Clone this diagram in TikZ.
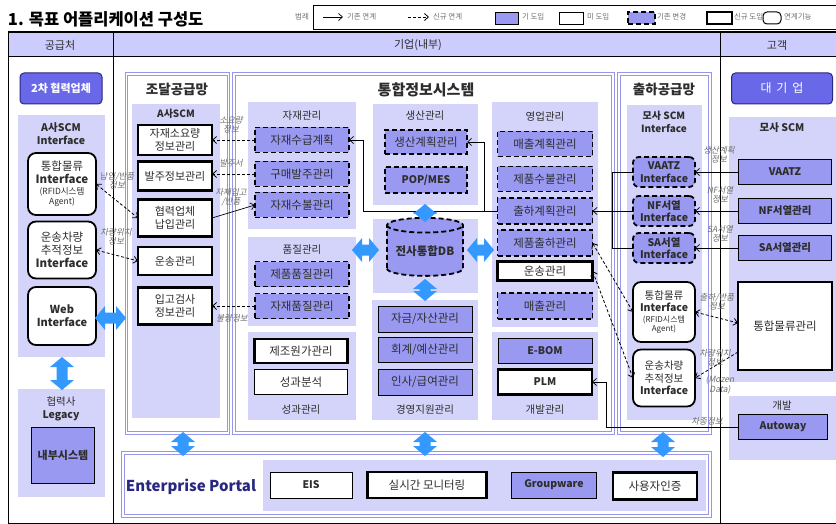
\documentclass[tikz,border=0pt]{standalone}
\usepackage{fontspec}
\setmainfont{Noto Sans CJK KR}
\newfontfamily\labfont[FakeSlant=0.2]{Noto Sans CJK KR}
\usetikzlibrary{shapes.geometric,arrows.meta,calc}
\definecolor{headfill}{RGB}{204,204,255}
\definecolor{panel}{RGB}{212,212,250}
\definecolor{med}{RGB}{153,153,242}
\definecolor{dark}{RGB}{104,104,232}
\definecolor{lav}{RGB}{150,150,236}
\definecolor{ablue}{RGB}{51,153,255}
\definecolor{tgray}{RGB}{45,45,45}
\definecolor{lgray}{RGB}{110,110,110}
\definecolor{navy}{RGB}{40,40,130}
\newcommand\fs[2]{\fontsize{#1}{#2}\selectfont}
\newcommand\bluev[3]{\fill[ablue] (#1,#2) -- (#1+12,#2+10) -- (#1+5.5,#2+10) -- (#1+5.5,#3-10) -- (#1+12,#3-10) -- (#1,#3) -- (#1-12,#3-10) -- (#1-5.5,#3-10) -- (#1-5.5,#2+10) -- (#1-12,#2+10) -- cycle;}
\newcommand\blueh[3]{\fill[ablue] (#2,#1) -- (#2+10,#1-12) -- (#2+10,#1-5.5) -- (#3-10,#1-5.5) -- (#3-10,#1-12) -- (#3,#1) -- (#3-10,#1+12) -- (#3-10,#1+5.5) -- (#2+10,#1+5.5) -- (#2+10,#1+12) -- cycle;}
\begin{document}
\begin{tikzpicture}[x=1pt,y=-1pt,
  every node/.style={inner sep=0pt, outer sep=0pt},
  box/.style={draw=black, text=tgray, align=center, font=\fs{11.5}{13}},
  oldbox/.style={box, fill=med, line width=0.8pt},
  nobox/.style={box, fill=white, line width=0.8pt},
  chgbox/.style={box, fill=med, line width=1.8pt, dash pattern=on 5pt off 3pt},
  newbox/.style={box, fill=white, line width=2.2pt},
  linkbox/.style={box, fill=white, line width=1.8pt, rounded corners=8pt},
  chglink/.style={chgbox, rounded corners=6pt, font=\bfseries\fs{10.5}{12.5}},
  outerpan/.style={draw=lav, line width=1.3pt, double=white, double distance=1.2pt, fill=white},
  ptitle/.style={text=tgray, font=\fs{10.5}{13}, align=center},
  lab/.style={text=lgray, font=\labfont\fs{8.5}{9.5}, align=center},
  legt/.style={text=lgray, font=\fs{7.5}{9}, anchor=west},
  tip/.style={-{Straight Barb[length=4pt,width=7pt]}},
  tips/.style={{Straight Barb[length=4pt,width=7pt]}-{Straight Barb[length=4pt,width=7pt]}},
  conn/.style={line width=0.7pt, black},
  dconn/.style={line width=0.8pt, black, dash pattern=on 3pt off 2pt},
]
\useasboundingbox (0,0) rectangle (836,524);
\fill[white] (0,0) rectangle (836,524);

% title and legend
\node[anchor=west, font=\bfseries\fs{16.5}{18}, text=black] (title) at (8,19) {1. 목표 어플리케이션 구성도};
\draw[line width=0.8pt] (836,5) -- (313,5) -- (313,29) -- (836,29);
\node[legt, anchor=center] (lg0) at (302,17) {범례};
\coordinate (la1) at (323,17); \coordinate (la2) at (343,17);
\draw[conn,tip] (la1) -- (la2);
\node[legt] (lg1) at (347,17) {기존 연계};
\coordinate (lb1) at (408,17); \coordinate (lb2) at (429,17);
\draw[dconn,tip] (lb1) -- (lb2);
\node[legt] (lg2) at (433,17) {신규 연계};
\node[oldbox, minimum width=23pt, minimum height=12pt] (lgb1) at (506.5,18) {};
\node[legt] (lg3) at (522,17) {기 도입};
\node[nobox, minimum width=24pt, minimum height=12pt] (lgb2) at (571,18) {};
\node[legt] (lg4) at (587,17) {미 도입};
\node[chgbox, minimum width=27pt, minimum height=12pt] (lgb3) at (641.5,18) {};
\node[legt] (lg5) at (657,17) {기존 변경};
\node[newbox, minimum width=25pt, minimum height=12pt] (lgb4) at (719.5,18) {};
\node[legt] (lg6) at (734,17) {신규 도입};
\node[box, fill=white, line width=1pt, rounded corners=4pt, minimum width=18pt, minimum height=12pt] (lgb5) at (772,18) {};
\node[legt] (lg7) at (784,17) {연계기능};

% frame and header
\fill[headfill] (8,33) rectangle (836,56);
\draw[line width=1.2pt] (8,32) -- (836,32);
\draw[line width=0.8pt] (8,56) -- (836,56);
\draw[line width=1pt] (8,32) -- (8,523) -- (836,523);
\draw[line width=1pt] (113,32) -- (113,523);
\draw[line width=1pt] (720,32) -- (720,523);
\node[ptitle, font=\fs{11}{13}] (h1) at (60,45) {공급처};
\node[ptitle, font=\fs{11}{13}] (h2) at (418,45) {기업(내부)};
\node[ptitle, font=\fs{11}{13}] (h3) at (777,45) {고객};

% ===== supplier column
\node[draw=navy, line width=1pt, fill=dark, rounded corners=4pt, minimum width=82pt, minimum height=31pt, text=white, font=\bfseries\fs{11}{13}] (tier2) at (61,88.5) {2차 협력업체};
\fill[panel] (18,115) rectangle (105,357);
\node[ptitle, font=\bfseries\fs{10.5}{13}] (tA) at (61,133.5) {A사SCM\\Interface};
\node[linkbox, minimum width=68pt, minimum height=62pt] (lLogi) at (62,184) {통합물류\\{\bfseries Interface}\\[-2pt]{\fs{8.5}{10}(RFID시스템}\\[-3pt]{\fs{8.5}{10}Agent)}};
\node[linkbox, minimum width=68pt, minimum height=57pt] (lTrack) at (62,250) {운송차량\\추적정보\\{\bfseries Interface}};
\node[linkbox, minimum width=68pt, minimum height=58pt, font=\bfseries\fs{11}{13}] (lWeb) at (62,316) {Web\\Interface};
\fill[panel] (18,389) rectangle (105,497);
\node[ptitle] (tLeg) at (61,409) {협력사\\{\bfseries Legacy}};
\node[oldbox, minimum width=63pt, minimum height=56pt, font=\bfseries\fs{11}{13}] (inner) at (63,455) {내부시스템};

% ===== procurement SCM
\draw[outerpan] (126.5,74) rectangle (228.5,433);
\node[font=\bfseries\fs{13.5}{15}, text=tgray] (tJo) at (177,89) {조달공급망};
\fill[panel] (132,104) rectangle (220,418);
\node[ptitle, font=\bfseries\fs{10}{12}] (tAscm) at (176,114) {A사SCM};
\node[newbox, minimum width=74pt, minimum height=30pt, font=\fs{11}{13}] (pMat) at (175,140) {자재소요량\\정보관리};
\node[newbox, minimum width=74pt, minimum height=29pt, font=\fs{11}{13}] (pOrder) at (175,176) {발주정보관리};
\node[newbox, minimum width=74pt, minimum height=37pt, font=\fs{11}{13}] (pDeliv) at (175,218) {협력업체\\납입관리};
\node[newbox, minimum width=74pt, minimum height=28pt, font=\fs{11}{13}] (pTrans) at (175,261) {운송관리};
\node[newbox, minimum width=74pt, minimum height=37pt, font=\fs{11}{13}] (pInsp) at (175,306) {입고검사\\정보관리};

% ===== integrated information system
\draw[outerpan] (234,74) rectangle (613,433);
\node[font=\bfseries\fs{15}{17}, text=tgray] (tInt) at (426,90) {통합정보시스템};
\fill[panel] (248,102) rectangle (356,229);
\node[ptitle] (tMat) at (302,116) {자재관리};
\node[chgbox, minimum width=94pt, minimum height=25pt] (mPlan) at (302,140) {자재수급계획};
\node[chgbox, minimum width=94pt, minimum height=25pt] (mBuy) at (302,174) {구매발주관리};
\node[chgbox, minimum width=94pt, minimum height=25pt] (mInOut) at (302,205) {자재수불관리};
\fill[panel] (248,237) rectangle (356,326);
\node[ptitle] (tQ) at (302,250) {품질관리};
\node[chgbox, minimum width=94pt, minimum height=25pt] (qProd) at (302,274) {제품품질관리};
\node[chgbox, minimum width=94pt, minimum height=25pt] (qMat) at (302,306) {자재품질관리};
\fill[panel] (248,332) rectangle (356,420);
\node[newbox, minimum width=93pt, minimum height=24pt] (cCost) at (301,351) {제조원가관리};
\node[nobox, minimum width=93pt, minimum height=25pt] (cAnal) at (301,382) {성과분석};
\node[ptitle] (tPerf) at (301,410) {성과관리};

\fill[panel] (373,104) rectangle (478,205);
\node[ptitle] (tProd) at (425,116) {생산관리};
\node[chgbox, minimum width=82pt, minimum height=24pt] (sPlan) at (426,142) {생산계획관리};
\node[chgbox, minimum width=82pt, minimum height=26pt, font=\bfseries\fs{10.5}{13}] (sPop) at (426,180) {POP/MES};
\fill[panel] (373,219) rectangle (478,293);
\node[cylinder, shape border rotate=90, aspect=0.25, draw=black, line width=1.8pt, dash pattern=on 5pt off 3pt, fill=med, minimum width=76pt, minimum height=58pt, text=tgray, font=\bfseries\fs{11.5}{13}] (db) at (425,251) {전사통합DB};
\fill[panel] (372,300) rectangle (478,420);
\node[oldbox, minimum width=94pt, minimum height=26pt] (gFund) at (425,319) {자금/자산관리};
\node[oldbox, minimum width=94pt, minimum height=25pt] (gAcct) at (425,350) {회계/예산관리};
\node[oldbox, minimum width=94pt, minimum height=26pt] (gHR) at (425,382) {인사/급여관리};
\node[ptitle] (tMgmt) at (425,410) {경영지원관리};

\fill[panel] (492,102) rectangle (598,327);
\node[ptitle] (tSales) at (545,117) {영업관리};
\node[chgbox, minimum width=95pt, minimum height=25pt] (yPlan) at (545,144) {매출계획관리};
\node[chgbox, minimum width=95pt, minimum height=25pt] (yStock) at (545,179) {제품수불관리};
\node[chgbox, minimum width=95pt, minimum height=26pt] (yShip) at (545,211) {출하계획관리};
\node[chgbox, minimum width=95pt, minimum height=26pt] (yOut) at (545,243) {제품출하관리};
\node[newbox, minimum width=95pt, minimum height=19pt] (yTrans) at (545,271) {운송관리};
\node[chgbox, minimum width=95pt, minimum height=26pt] (ySales) at (545,306) {매출관리};
\fill[panel] (492,332) rectangle (598,420);
\node[oldbox, minimum width=94pt, minimum height=25pt, font=\bfseries\fs{10.5}{13}] (dEbom) at (545,351) {E-BOM};
\node[newbox, minimum width=94pt, minimum height=25pt, font=\bfseries\fs{10.5}{13}] (dPlm) at (545,382) {PLM};
\node[ptitle] (tDev) at (545,410) {개발관리};

% ===== shipping SCM
\draw[outerpan] (619,74) rectangle (710,433);
\node[font=\bfseries\fs{13.5}{15}, text=tgray] (tCh) at (664,89) {출하공급망};
\fill[panel] (627,105) rectangle (702,420);
\node[ptitle, font=\bfseries\fs{10}{13}] (tMo) at (664,122) {모사 SCM\\Interface};
\node[chglink, minimum width=62pt, minimum height=30pt] (iVaatz) at (664,172) {VAATZ\\Interface};
\node[chglink, minimum width=62pt, minimum height=30pt] (iNF) at (664,211) {NF서열\\Interface};
\node[chglink, minimum width=62pt, minimum height=30pt] (iSA) at (664,248) {SA서열\\Interface};
\node[linkbox, minimum width=62pt, minimum height=60pt, font=\fs{10.5}{12.5}] (iLogi) at (664,312) {통합물류\\{\bfseries Interface}\\[-2pt]{\fs{8}{10}(RFID시스템}\\[-3pt]{\fs{8}{10}Agent)}};
\node[linkbox, minimum width=62pt, minimum height=57pt, font=\fs{10.5}{12.5}] (iTrack) at (664,378) {운송차량\\추적정보\\{\bfseries Interface}};

% ===== portal
\draw[outerpan] (123,453) rectangle (710,516);
\fill[panel] (263,460) rectangle (706,511);
\node[font=\bfseries\fs{15}{17}, text=navy] (ep) at (191,487) {Enterprise Portal};
\node[nobox, minimum width=82pt, minimum height=26pt, font=\bfseries\fs{10.5}{13}] (eEIS) at (311,485) {EIS};
\node[newbox, minimum width=119pt, minimum height=26pt] (eMon) at (427,485) {실시간 모니터링};
\node[oldbox, minimum width=85pt, minimum height=26pt, font=\bfseries\fs{10.5}{13}] (eGroup) at (554,485) {Groupware};
\node[newbox, minimum width=84pt, minimum height=27pt] (eAuth) at (655,486) {사용자인증};

% ===== customer column
\node[draw=navy, line width=1pt, fill=dark, rounded corners=4pt, minimum width=101pt, minimum height=31pt, text=white, font=\fs{12}{14}] (big) at (782,88.5) {대\hspace{0.4em}기\hspace{0.4em}업};
\fill[panel] (729,117) rectangle (836,382);
\node[ptitle, font=\bfseries\fs{10.5}{13}] (tMoC) at (782,128) {모사 SCM};
\node[oldbox, minimum width=93pt, minimum height=25pt, font=\bfseries\fs{10.5}{13}] (cVaatz) at (785,172) {VAATZ};
\node[oldbox, minimum width=93pt, minimum height=25pt, font=\bfseries\fs{10.5}{13}] (cNF) at (785,211) {NF서열관리};
\node[oldbox, minimum width=93pt, minimum height=25pt, font=\bfseries\fs{10.5}{13}] (cSA) at (785,248) {SA서열관리};
\node[newbox, minimum width=94pt, minimum height=88pt] (cLogi) at (785,326) {통합물류관리};
\fill[panel] (729,396) rectangle (836,460);
\node[ptitle] (tDevC) at (782,406) {개발};
\node[oldbox, minimum width=89pt, minimum height=25pt, font=\bfseries\fs{10.5}{13}] (cAuto) at (783,427) {Autoway};

% ===== connectors
\draw[dconn,tip] (mPlan.west) -- (pMat.east);
\draw[dconn,tip] (mBuy.west) -- (mBuy.west -| pOrder.east);
\draw[conn,tip] (pDeliv.east) -- (mInOut.west);
\draw[dconn,tip] (qMat.west) -- (qMat.west -| pInsp.east);
\draw[dconn,tips] (lLogi.east) -- (pDeliv.west);
\draw[dconn,tips] (lTrack.east) -- (pTrans.west);
\draw[conn] (iVaatz.west) -- ++(-20.5,0) |- (iSA.west);
\draw[conn,tip] (iNF.west) -- (yShip.east);
\coordinate (jn) at ($(yShip.west)+(-13.5,0)$);
\coordinate (jm) at (363,211);
\draw[conn,tip] (yShip.west) -- (jn) |- (sPlan.east);
\draw[conn,tip] (jn) -- (jm) |- (mPlan.east);
\draw[conn,tip] (cVaatz.west) -- (iVaatz.east);
\draw[conn,tip] (cNF.west) -- (iNF.east);
\draw[conn,tip] (cSA.west) -- (iSA.east);
\coordinate (cl1) at ($(cLogi.west)+(0,-3)$);
\coordinate (cl2) at ($(cLogi.west)+(0,26)$);
\draw[dconn,tips] (iLogi.east) -- (cl1);
\draw[dconn,tip] (cl2) -- (iTrack.east);
\draw[dconn,tips] (yOut.east) -- (iLogi.west);
\draw[dconn,tips] (yTrans.east) -- (iTrack.west);
\coordinate (ja) at (606,427);
\draw[conn,tip] (cAuto.west) -- (ja) |- (dPlm.east);

% connector labels
\node[lab] (l1) at (231,125) {소요량\\정보};
\node[lab] (l2) at (231,163) {발주서};
\node[lab] (l3) at (231,197) {자재입고\\/반품};
\node[lab] (l4) at (232,318) {불량정보};
\node[lab] (l5) at (117,181) {납입/반품\\정보};
\node[lab] (l6) at (116,237) {차량위치\\정보};
\node[lab] (l7) at (719,155) {생산계획\\정보};
\node[lab] (l8) at (720,195) {NF서열\\정보};
\node[lab] (l9) at (720,234) {SA서열\\정보};
\node[lab] (l10) at (717,302) {출하/반품\\정보};
\node[lab] (l11) at (715,358) {차량위치\\정보};
\node[lab] (l12) at (720,385) {(Mozen\\Data)};
\node[lab] (l13) at (707,421) {차종정보};

% ===== blue double arrows
\blueh{318}{95}{126}
\bluev{62}{357}{390}
\bluev{183}{432}{456}
\bluev{425}{432}{456}
\bluev{663}{432}{457}
\bluev{425}{204}{222}
\bluev{425}{279}{301}
\blueh{250}{352}{379}
\blueh{250}{467}{494}
\end{tikzpicture}
\end{document}
